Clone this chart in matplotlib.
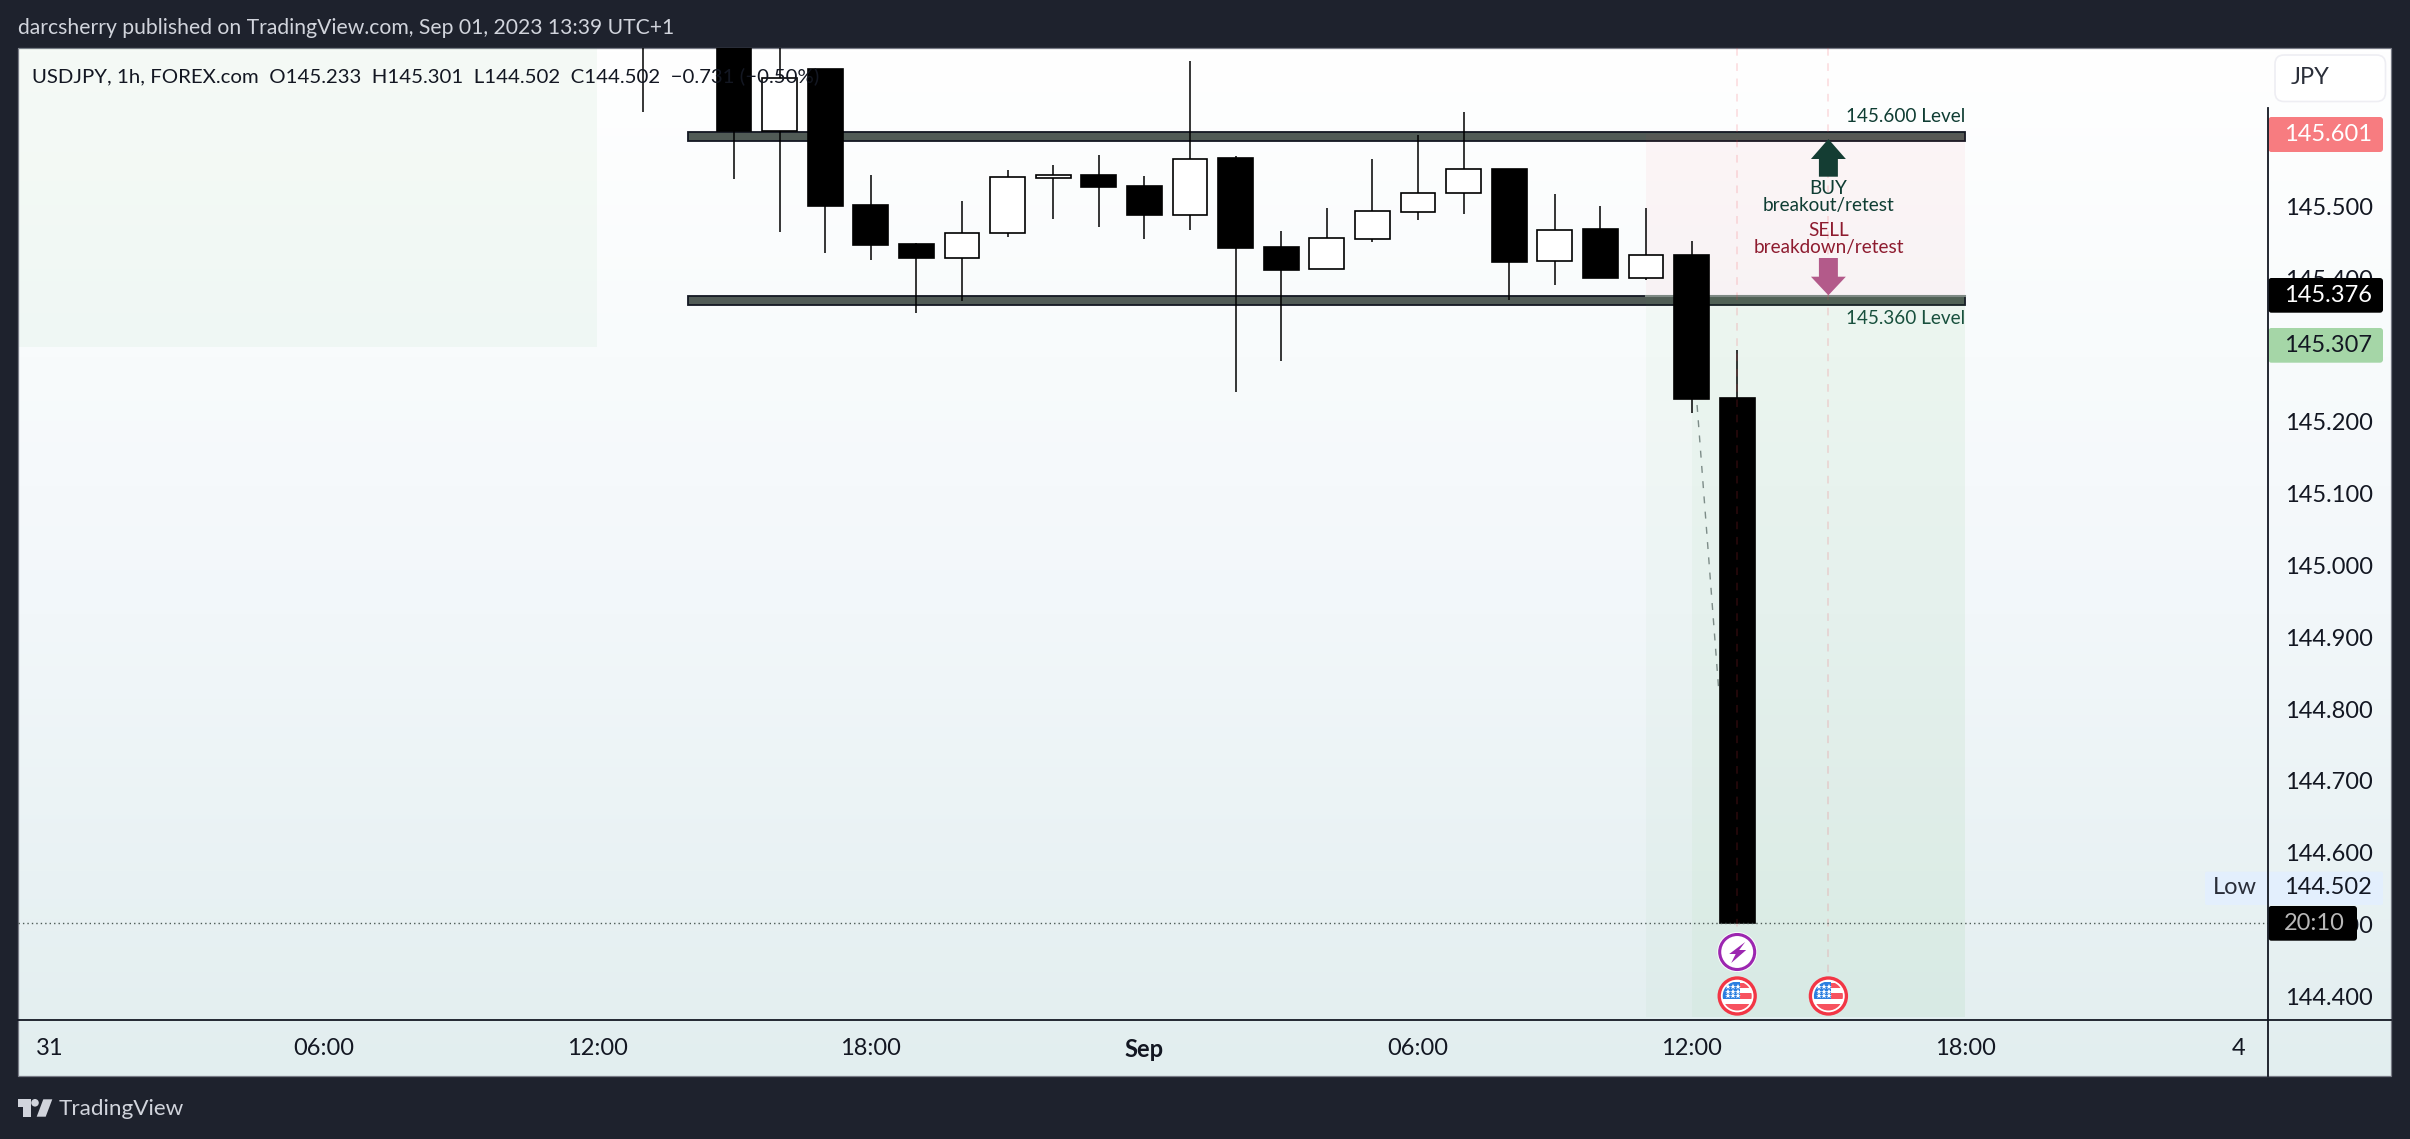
import matplotlib
matplotlib.use('Agg')
import matplotlib.pyplot as plt
import numpy as np
from matplotlib.colors import LinearSegmentedColormap
from matplotlib.patches import Rectangle, Circle, Polygon, FancyBboxPatch

plt.rcParams['font.family'] = ['Lato', 'DejaVu Sans']

# hours counted from 31 Aug 00:00, last candle is 1 Sep 13:00
hours = [13, 15, 16, 17, 18, 19, 20, 21, 22, 23, 24, 25, 26, 27, 28, 29, 30, 31, 32, 33, 34, 35, 36, 37]
opens = [145.800, 145.740, 145.606, 145.692, 145.502, 145.448, 145.428, 145.464, 145.540, 145.544, 145.529, 145.489,
         145.568, 145.444, 145.413, 145.455, 145.493, 145.519, 145.553, 145.424, 145.469, 145.400, 145.433, 145.233]
highs = [145.850, 145.780, 145.760, 145.692, 145.544, 145.449, 145.508, 145.551, 145.558, 145.572, 145.543, 145.703,
         145.570, 145.466, 145.498, 145.566, 145.600, 145.632, 145.553, 145.518, 145.501, 145.498, 145.452, 145.301]
lows = [145.632, 145.539, 145.465, 145.436, 145.426, 145.352, 145.369, 145.458, 145.483, 145.472, 145.455, 145.468,
        145.242, 145.285, 145.413, 145.451, 145.481, 145.490, 145.370, 145.391, 145.400, 145.398, 145.213, 144.502]
closes = [145.760, 145.606, 145.679, 145.501, 145.447, 145.428, 145.464, 145.541, 145.544, 145.527, 145.489, 145.567,
          145.443, 145.412, 145.456, 145.494, 145.519, 145.552, 145.423, 145.468, 145.400, 145.432, 145.232, 144.502]

price_ticks = [145.5, 145.4, 145.3, 145.2, 145.1, 145.0, 144.9, 144.8, 144.7, 144.6, 144.5, 144.4]
time_ticks = [0, 6, 12, 18, 24, 30, 36, 42, 48]
time_labels = ['31', '06:00', '12:00', '18:00', 'Sep', '06:00', '12:00', '18:00', '4']

level_high = (145.592, 145.604)
level_low = (145.363, 145.376)
level_start, level_end = 14, 42
stop_price, entry_price = 145.601, 145.376
last_price = 144.502
event_hours = [37, 39]

W, H = 2410, 1139
DARK = '#1e222d'
LIGHT = '#d1d4dc'
GREEN_TXT = '#0f3d33'
RED_TXT = '#8e1b2f'


def x_px(h):
    return 50.0 + 45.6 * h


def hour_at(px):
    return (px - 50.0) / 45.6


def price_at(py):
    return 145.5 + (206.7 - py) / 717.6


fig = plt.figure(figsize=(W / 100, H / 100), dpi=100, facecolor=DARK)

# background with the gradient, pixel coordinates
bg = fig.add_axes([0, 0, 1, 1], zorder=0)
bg.set_xlim(0, W)
bg.set_ylim(H, 0)
bg.axis('off')
grad = LinearSegmentedColormap.from_list('g', [(0, '#ffffff'), (0.3, '#f8fbfc'), (0.55, '#f2f7fa'), (1, '#e2eeef')])
bg.imshow(np.linspace(0, 1, 256).reshape(-1, 1), cmap=grad, aspect='auto', extent=(18, 2391, 1076, 48), zorder=1)
bg.set_xlim(0, W)
bg.set_ylim(H, 0)
bg.add_patch(Rectangle((18, 48), 2373, 1028, fill=False, ec='#787b86', lw=0.9, zorder=2))
bg.text(18, 28, 'darcsherry published on TradingView.com, Sep 01, 2023 13:39 UTC+1', color=LIGHT,
        fontsize=15.2, va='center', ha='left')

# logo
bg.add_patch(Rectangle((18, 1099.3), 13, 7.4, color=LIGHT, lw=0))
bg.add_patch(Rectangle((23.3, 1106), 7.7, 10.7, color=LIGHT, lw=0))
bg.add_patch(Circle((35, 1102.8), 3.8, color=LIGHT, lw=0))
bg.add_patch(Polygon([(36.7, 1116.7), (43.3, 1099.3), (52.3, 1099.3), (45.7, 1116.7)], color=LIGHT, lw=0))
bg.text(59, 1109, 'TradingView', color=LIGHT, fontsize=16.2, va='center', ha='left')

# main chart
ax = fig.add_axes([18 / W, 1 - 1020.3 / H, 2250 / W, (1020.3 - 48) / H], zorder=1)
ax.patch.set_visible(False)
ax.set_xlim(hour_at(18), hour_at(2268))
ax.set_ylim(price_at(1020.3), price_at(48))
for s in ax.spines.values():
    s.set_visible(False)

ax.yaxis.tick_right()
ax.set_yticks(price_ticks)
ax.set_yticklabels(['%.3f' % p for p in price_ticks], fontsize=17, color='#131722')
ax.set_xticks(time_ticks)
ax.set_xticklabels(time_labels, fontsize=17, color='#131722')
ax.tick_params(axis='y', length=0, pad=12)
ax.tick_params(axis='x', length=0, pad=13)
ax.get_xticklabels()[4].set_fontweight('bold')

# shaded boxes
ax.add_patch(Rectangle((hour_at(19), price_at(346.7)), 12 - hour_at(19), price_at(48) - price_at(346.7),
                       fc='#4caf60', alpha=0.05, lw=0, zorder=1))

# legend sits on top, black text disappears on the black bodies
ax.text(hour_at(32), price_at(76), 'USDJPY, 1h, FOREX.com  O145.233  H145.301  L144.502  C144.502  \u22120.731 (\u22120.50%)',
        fontsize=14.7, color='#131722', va='center', ha='left', zorder=9)

for lo, hi in [level_high, level_low]:
    ax.add_patch(Rectangle((level_start, lo), level_end - level_start, hi - lo, fc='#515b56', ec='#131722',
                           lw=1.3, zorder=3))
ax.text(level_end, price_at(116.7), '145.600 Level', color=GREEN_TXT, fontsize=13.6, ha='right', va='center', zorder=3)
ax.text(level_end, price_at(319), '145.360 Level', color='#14493c', fontsize=13.6, ha='right', va='center', zorder=3)

bottom_p = price_at(1017)
ax.add_patch(Rectangle((35, entry_price), level_end - 35, stop_price - entry_price, fc='#f23645', alpha=0.045, lw=0, zorder=4))
ax.add_patch(Rectangle((35, bottom_p), 1, entry_price - bottom_p, fc='#4caf50', alpha=0.035, lw=0, zorder=4))
ax.add_patch(Rectangle((36, bottom_p), level_end - 36, entry_price - bottom_p, fc='#4caf50', alpha=0.075, lw=0, zorder=4))
ax.plot([35, level_end], [entry_price, entry_price], color='#7f8a85', lw=1.5, zorder=4)

# dashed connector behind the big candle
ax.plot([36.12, 36.6], [price_at(405), price_at(693)], color='#7d8c88', lw=1, dashes=(5, 6), zorder=4)

# candles
ax.vlines(hours, lows, highs, color='black', lw=1.1, zorder=5)
up = [c >= o for o, c in zip(opens, closes)]
ax.bar(hours, [abs(c - o) for o, c in zip(opens, closes)], bottom=[min(o, c) for o, c in zip(opens, closes)],
       width=0.76, color=['white' if u else 'black' for u in up], edgecolor='black', linewidth=1.2, zorder=6)

# event lines
for h in event_hours:
    ax.plot([h, h], [price_at(48), price_at(975)], color='#f23645', alpha=0.18, lw=1.1, dashes=(5, 5), zorder=7)
ax.plot([hour_at(18), hour_at(2268)], [last_price, last_price], color='#4d5a56', lw=1, dashes=(1, 2.2), zorder=7)


def arrow(h, tip, base, neck, color):
    hw, sw = 0.383, 0.208
    ax.add_patch(Polygon([(h, tip), (h + hw, neck), (h + sw, neck), (h + sw, base), (h - sw, base), (h - sw, neck),
                          (h - hw, neck)], fc=color, lw=0, zorder=8))


arrow(39, price_at(139), price_at(176.7), price_at(159), '#143d33')
arrow(39, price_at(295.3), price_at(258), price_at(276.7), '#b35a8a')
ax.text(39, price_at(188.5), 'BUY', color=GREEN_TXT, fontsize=13.6, ha='center', va='center', zorder=8)
ax.text(39, price_at(206), 'breakout/retest', color=GREEN_TXT, fontsize=13.6, ha='center', va='center', zorder=8)
ax.text(39, price_at(230), 'SELL', color=RED_TXT, fontsize=13.6, ha='center', va='center', zorder=8)
ax.text(39, price_at(248), 'breakdown/retest', color=RED_TXT, fontsize=13.6, ha='center', va='center', zorder=8)

# overlay: axis lines, price tags, icons
top = fig.add_axes([0, 0, 1, 1], zorder=2)
top.patch.set_visible(False)
top.set_xlim(0, W)
top.set_ylim(H, 0)
top.axis('off')
top.plot([2268.4, 2268.4], [108, 1076], color='#131722', lw=1.3)
top.plot([18, 2391], [1020.3, 1020.3], color='#131722', lw=1.3)

top.add_patch(FancyBboxPatch((2275, 55), 110.5, 46.5, boxstyle='round,pad=0,rounding_size=9', fc='white',
                             ec='#eeeef3', lw=1.2))
top.text(2291, 78, 'JPY', fontsize=17, color='#2a2e39', va='center', ha='left')


def tag(y0, y1, x1, fc, label, color, xc=2328):
    top.add_patch(FancyBboxPatch((2268.4, y0), x1 - 2268.4, y1 - y0, boxstyle='round,pad=0,rounding_size=3', fc=fc, lw=0))
    top.text(xc, (y0 + y1) / 2, label, fontsize=17, color=color, ha='center', va='center')


tag(117, 152, 2383, '#f77c80', '%.3f' % stop_price, 'white')
tag(278, 312.7, 2383, 'black', '%.3f' % entry_price, 'white')
tag(328, 362.7, 2383, '#a5d6a7', '145.307', '#131722')
top.add_patch(FancyBboxPatch((2205, 871.7), 178, 33.3, boxstyle='round,pad=0,rounding_size=2', fc='#e3effd', lw=0))
top.text(2235, 888, 'Low', fontsize=17, color='#2a2e39', ha='center', va='center')
top.text(2328, 888, '%.3f' % last_price, fontsize=17, color='#131722', ha='center', va='center')
tag(906, 940.7, 2357, 'black', '20:10', '#b8b8b8', xc=2314)

# news / event icons
lx = x_px(37)
top.add_patch(Circle((lx, 952), 20, fc='white', ec='none', alpha=0.9))
top.add_patch(Circle((lx, 952), 17.5, fc='white', ec='#9c27b0', lw=2.2))
top.add_patch(Polygon([(lx + 8, 942), (lx - 8, 954), (lx - 1.5, 954), (lx - 6, 963), (lx + 9, 950), (lx + 2, 950)],
                      fc='#9c27b0', lw=0))

for h in event_hours:
    cx, cy = x_px(h), 996
    top.add_patch(Circle((cx, cy), 18, fc='white', ec='#f23645', lw=2.4))
    clip = Circle((cx, cy), 14.5, transform=top.transData)
    parts = [Rectangle((cx, cy - 13), 14, 4.5, fc='#f7525f', lw=0),
             Rectangle((cx + 3, cy - 3), 12, 6, fc='#f7525f', lw=0),
             Rectangle((cx - 14, cy + 8), 28, 7, fc='#f7525f', lw=0),
             Rectangle((cx - 15, cy - 14), 18, 17, fc='#2a7ee0', lw=0)]
    for p in parts:
        top.add_patch(p)
        p.set_clip_path(clip)
    for sx in (-9, -4, 1):
        for sy in (-9, -4, 0):
            top.plot(cx + sx, cy + sy, marker='*', ms=4, mfc='white', mew=0, ls='none')

fig.savefig('out.png', dpi=100, facecolor=DARK)
